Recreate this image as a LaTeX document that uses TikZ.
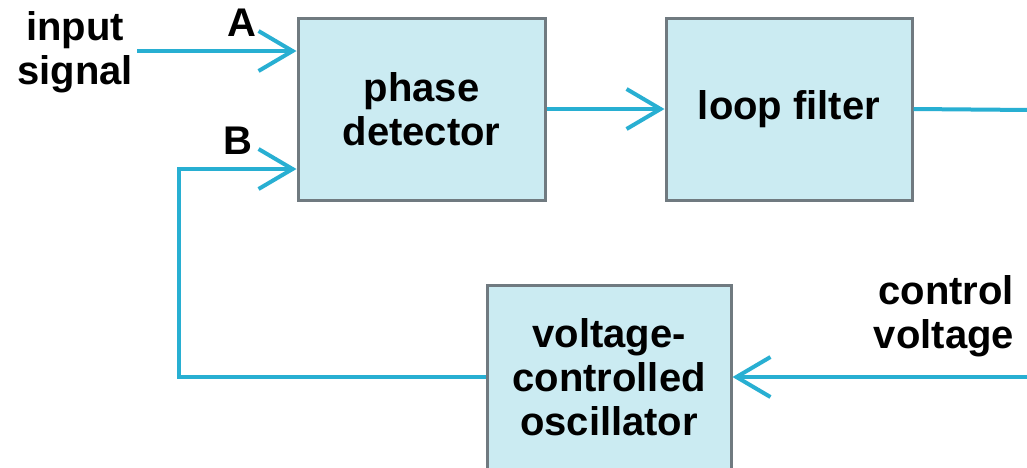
\documentclass[tikz,border=0pt]{standalone}
\usepackage{fontspec}
\setmainfont{Liberation Sans}
\usetikzlibrary{arrows.meta}
\definecolor{wire}{RGB}{40,175,210}
\definecolor{boxfill}{RGB}{203,235,242}
\definecolor{boxline}{RGB}{112,122,128}
\tikzset{
  blockbox/.style={draw=boxline, line width=3pt, fill=boxfill, rectangle,
    align=center, inner sep=0pt, font=\fontsize{40}{44}\selectfont\bfseries},
  lbl/.style={align=center, inner sep=0pt, font=\fontsize{40}{44}\selectfont\bfseries},
  wireline/.style={draw=wire, line width=4pt},
  tipped/.style={wireline, -{Straight Barb[length=34pt,width=40pt]}}
}
\begin{document}
\begin{tikzpicture}[x=1pt,y=-1pt]
\clip (0,0) rectangle (1027,467);
\fill[white] (0,0) rectangle (1027,467);
% blocks
\node[blockbox, minimum width=247pt, minimum height=182pt] (pd) at (421.5,109) {phase\\detector};
\node[blockbox, minimum width=246pt, minimum height=182pt] (lf) at (789,109) {loop filter};
\node[blockbox, minimum width=244pt, minimum height=184pt] (vco) at (609,377) {voltage-\\controlled\\oscillator};
% labels
\node[lbl] (inlbl) at (75,52) {input\\signal};
\node[lbl] (albl) at (242,23) {A};
\node[lbl] (blbl) at (238,141) {B};
\node[lbl, align=right] (cvlbl) at (944,316) {control\\voltage};
% free ends
\coordinate (inL) at (137,51);
\coordinate (bcorner) at (179,169);
\coordinate (outR) at (1030,110);
\coordinate (cvR) at (1030,377);
% connectors
\draw[tipped] (inL) -- (inL -| pd.west);
\draw[tipped] (vco.west) -| (bcorner) -- (bcorner -| pd.west);
\draw[tipped] (pd.east) -- (lf.west);
\draw[wireline] (lf.east) -- (outR);
\draw[tipped] (cvR) -- (vco.east);
\end{tikzpicture}
\end{document}
